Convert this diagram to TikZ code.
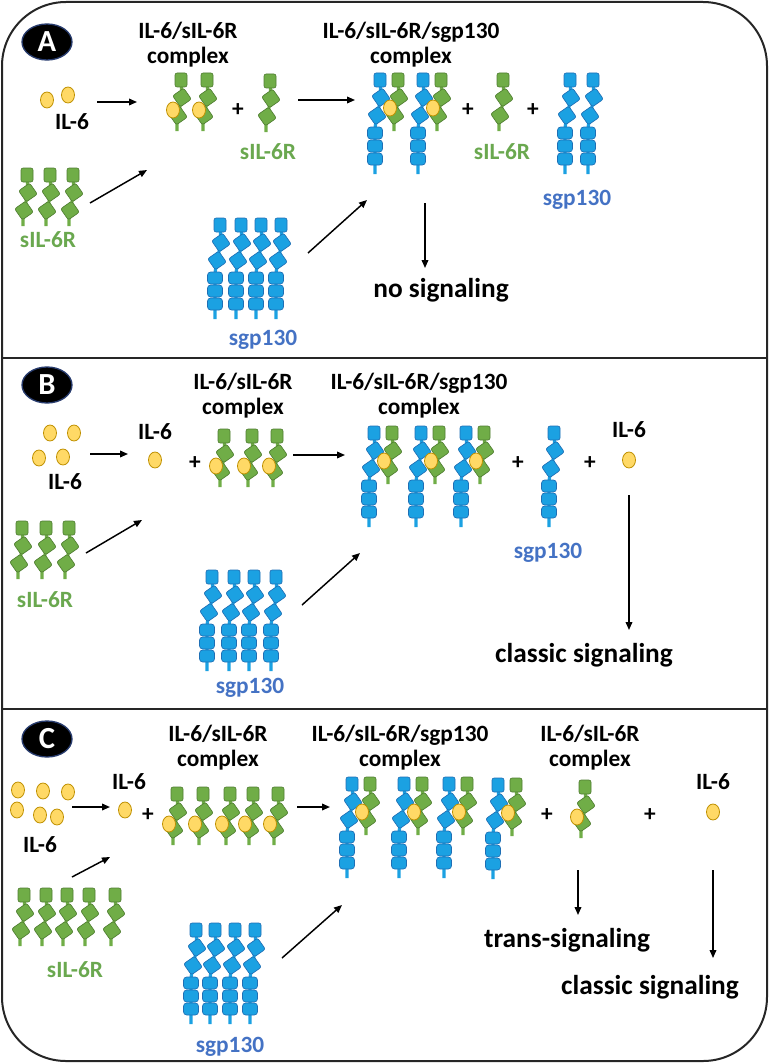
\documentclass[tikz,border=0pt]{standalone}
\usepackage{fontspec}
\setmainfont{Carlito}
\usetikzlibrary{arrows.meta,shapes.geometric}
\definecolor{gfill}{HTML}{70AD47}
\definecolor{gline}{HTML}{507E32}
\definecolor{bfill}{HTML}{1BA1E2}
\definecolor{bline}{HTML}{1F6FB5}
\definecolor{yfill}{HTML}{FFD966}
\definecolor{yline}{HTML}{BF9000}
\definecolor{glab}{HTML}{6AA84F}
\definecolor{blab}{HTML}{4472C4}
\definecolor{frame}{HTML}{262626}
\newcommand\molhead[1]{%
  \path[molpart,#1, rotate around={35:(-3,35.5)}] (-9.75,28.75) rectangle (3.75,42.25);
  \path[molpart,#1, rotate around={35:(1,17.5)}] (-5.75,10.75) rectangle (7.75,24.25);
  \path[molpart,#1] (-6,-7) rectangle (6,7);}
\tikzset{
  molpart/.style={line width=0.5pt, rounded corners=1.6pt},
  molg/.style={draw=gline, fill=gfill},
  molb/.style={draw=bline, fill=bfill},
  sil/.pic={\draw[gfill, line width=2.4pt] (0,0) -- (1,17.5) -- (-3,35.5) -- (-4,44) -- (-4,51); \molhead{molg}},
  gp/.pic={\draw[bfill, line width=2.4pt] (0,0) -- (1,17.5) -- (-3,35.5) -- (-5,48) -- (-5,94);
    \path[molpart,molb,rounded corners=2.4pt] (-12.5,73) rectangle (2.5,85);
    \path[molpart,molb,rounded corners=2.4pt] (-12.5,60) rectangle (2.5,72);
    \path[molpart,molb,rounded corners=2.4pt] (-12.5,47) rectangle (2.5,59);
    \molhead{molb}},
  il6/.pic={\path[draw=yline, fill=yfill, line width=0.6pt] (0,0) ellipse [x radius=6.5, y radius=8];},
  cplx/.pic={\pic {sil}; \pic at (-8,30) {il6};},
  tri/.pic={\pic {gp}; \pic at (18,0) {sil}; \pic at (10,28) {il6};},
  lab/.style={font=\fontsize{17.5pt}{18.75pt}\selectfont\bfseries, inner sep=0pt, align=center},
  glabel/.style={lab, text=glab},
  blabel/.style={lab, text=blab},
  sig/.style={font=\fontsize{20.5pt}{22pt}\selectfont\bfseries, inner sep=0pt},
  arr/.style={line width=1.1pt, -{Triangle[length=6pt,width=5pt]}},
  badge/.style={ellipse, fill=black, draw={rgb,255:red,40;green,60;blue,110}, line width=1pt,
    minimum width=37.5pt, minimum height=27pt, inner sep=0pt, text=white,
    font=\fontsize{23pt}{23pt}\selectfont\bfseries},
}
\begin{document}
\begin{tikzpicture}[x=0.75pt,y=-0.75pt]
\useasboundingbox (0,0) rectangle (769,1063);
% frame
\draw[frame, line width=1.5pt, rounded corners=48pt] (2,2) rectangle (767,1061);
\draw[frame, line width=1.5pt] (2,358) -- (767,358);
\draw[frame, line width=1.5pt] (2,709) -- (767,709);

% ================= Panel A =================
\node[badge] (pA) at (47,42) {A};
\pic at (47,100) {il6}; \pic at (68,95) {il6};
\node[lab] (a-il6) at (72,122) {IL-6};
\coordinate (a1s) at (97,102); \coordinate (a1e) at (137,102);
\draw[arr] (a1s) -- (a1e);
\foreach \x in {27,50,73} \pic at (\x,175) {sil};
\node[glabel] (a-sil) at (48,240) {sIL-6R};
\coordinate (a2s) at (90,203); \coordinate (a2e) at (147,170);
\draw[arr] (a2s) -- (a2e);
\node[lab] (a-t1) at (188,44.5) {IL-6/sIL-6R\\complex};
\pic at (181,80) {cplx}; \pic at (207,80) {cplx};
\node[lab] (a-p1) at (238,110) {+};
\pic at (270,81) {sil};
\node[glabel] (a-sil2) at (268,152) {sIL-6R};
\coordinate (a3s) at (298,100); \coordinate (a3e) at (355,100);
\draw[arr] (a3s) -- (a3e);
\node[lab] (a-t2) at (411,44.5) {IL-6/sIL-6R/sgp130\\complex};
\pic at (380,80) {tri}; \pic at (423,80) {tri};
\node[lab] (a-p2) at (468,110) {+};
\pic at (503,80) {sil};
\node[glabel] (a-sil3) at (502,152) {sIL-6R};
\node[lab] (a-p3) at (533,110) {+};
\pic at (570,80) {gp}; \pic at (593,80) {gp};
\node[blabel] (a-gp1) at (577,200) {sgp130};
\foreach \x in {220,241,261,281} \pic at (\x,225) {gp};
\node[blabel] (a-gp2) at (263,340) {sgp130};
\coordinate (a4s) at (308,253); \coordinate (a4e) at (367,200);
\draw[arr] (a4s) -- (a4e);
\coordinate (a5s) at (425,203); \coordinate (a5e) at (425,268);
\draw[arr] (a5s) -- (a5e);
\node[sig] (a-sig) at (441,290) {no signaling};

% ================= Panel B =================
\node[badge] (pB) at (47,385) {B};
\pic at (50,433) {il6}; \pic at (74,433) {il6}; \pic at (39,458) {il6}; \pic at (63,457) {il6};
\node[lab] (b-il6) at (65,482) {IL-6};
\coordinate (b1s) at (90,454); \coordinate (b1e) at (128,454);
\draw[arr] (b1s) -- (b1e);
\node[lab] (b-il6b) at (155,432) {IL-6};
\pic at (155,460) {il6};
\node[lab] (b-p1) at (195,463) {+};
\node[lab] (b-t1) at (243,396) {IL-6/sIL-6R\\complex};
\foreach \x in {224,252,277} \pic at (\x,436) {cplx};
\coordinate (b2s) at (293,455); \coordinate (b2e) at (345,455);
\draw[arr] (b2s) -- (b2e);
\foreach \x in {22,46,69} \pic at (\x,528) {sil};
\node[glabel] (b-sil) at (45,600) {sIL-6R};
\coordinate (b3s) at (86,553); \coordinate (b3e) at (142,520);
\draw[arr] (b3s) -- (b3e);
\foreach \x in {212,234,254,276} \pic at (\x,577) {gp};
\node[blabel] (b-gp) at (250,688) {sgp130};
\coordinate (b4s) at (302,605); \coordinate (b4e) at (360,553);
\draw[arr] (b4s) -- (b4e);
\node[lab] (b-t2) at (419,396) {IL-6/sIL-6R/sgp130\\complex};
\foreach \x in {374,421,466} \pic at (\x,433) {tri};
\node[lab] (b-p2) at (518,463) {+};
\pic at (554,433) {gp};
\node[blabel] (b-gp2) at (548,553) {sgp130};
\node[lab] (b-p3) at (590,463) {+};
\node[lab] (b-il6c) at (629,430) {IL-6};
\pic at (629,460) {il6};
\coordinate (b5s) at (629,495); \coordinate (b5e) at (629,630);
\draw[arr] (b5s) -- (b5e);
\node[sig] (b-sig) at (584,655) {classic signaling};

% ================= Panel C =================
\node[badge] (pC) at (47,739) {C};
\pic at (18,790) {il6}; \pic at (43,791) {il6}; \pic at (68,792) {il6};
\pic at (17,810) {il6}; \pic at (40,815) {il6}; \pic at (57,817) {il6};
\node[lab] (c-il6) at (40,845) {IL-6};
\coordinate (c1s) at (72,807); \coordinate (c1e) at (110,807);
\draw[arr] (c1s) -- (c1e);
\node[lab] (c-il6b) at (129,782) {IL-6};
\pic at (125,810) {il6};
\node[lab] (c-p1) at (148,815) {+};
\node[lab] (c-t1) at (218,747.5) {IL-6/sIL-6R\\complex};
\foreach \x in {177,203,230,253,278} \pic at (\x,794) {cplx};
\coordinate (c2s) at (297,807); \coordinate (c2e) at (330,807);
\draw[arr] (c2s) -- (c2e);
\foreach \x in {24,46,67,89,115} \pic at (\x,895) {sil};
\node[glabel] (c-sil) at (75,970) {sIL-6R};
\coordinate (c3s) at (72,877); \coordinate (c3e) at (110,857);
\draw[arr] (c3s) -- (c3e);
\foreach \x in {196,215,235,255} \pic at (\x,930) {gp};
\node[blabel] (c-gp) at (230,1047) {sgp130};
\coordinate (c4s) at (282,958); \coordinate (c4e) at (342,905);
\draw[arr] (c4s) -- (c4e);
\node[lab] (c-t2) at (400,747.5) {IL-6/sIL-6R/sgp130\\complex};
\pic at (352,784) {tri}; \pic at (404,784) {tri}; \pic at (449,784) {tri}; \pic at (498,785) {tri};
\node[lab] (c-p2) at (547,815) {+};
\node[lab] (c-t3) at (590,747.5) {IL-6/sIL-6R\\complex};
\pic at (585,787) {cplx};
\node[lab] (c-p3) at (650,815) {+};
\node[lab] (c-il6c) at (713,782) {IL-6};
\pic at (713,812) {il6};
\coordinate (c5s) at (578,870); \coordinate (c5e) at (578,915);
\draw[arr] (c5s) -- (c5e);
\node[sig] (c-sig1) at (567,940) {trans-signaling};
\coordinate (c6s) at (713,870); \coordinate (c6e) at (713,958);
\draw[arr] (c6s) -- (c6e);
\node[sig] (c-sig2) at (650,987) {classic signaling};
\end{tikzpicture}
\end{document}
